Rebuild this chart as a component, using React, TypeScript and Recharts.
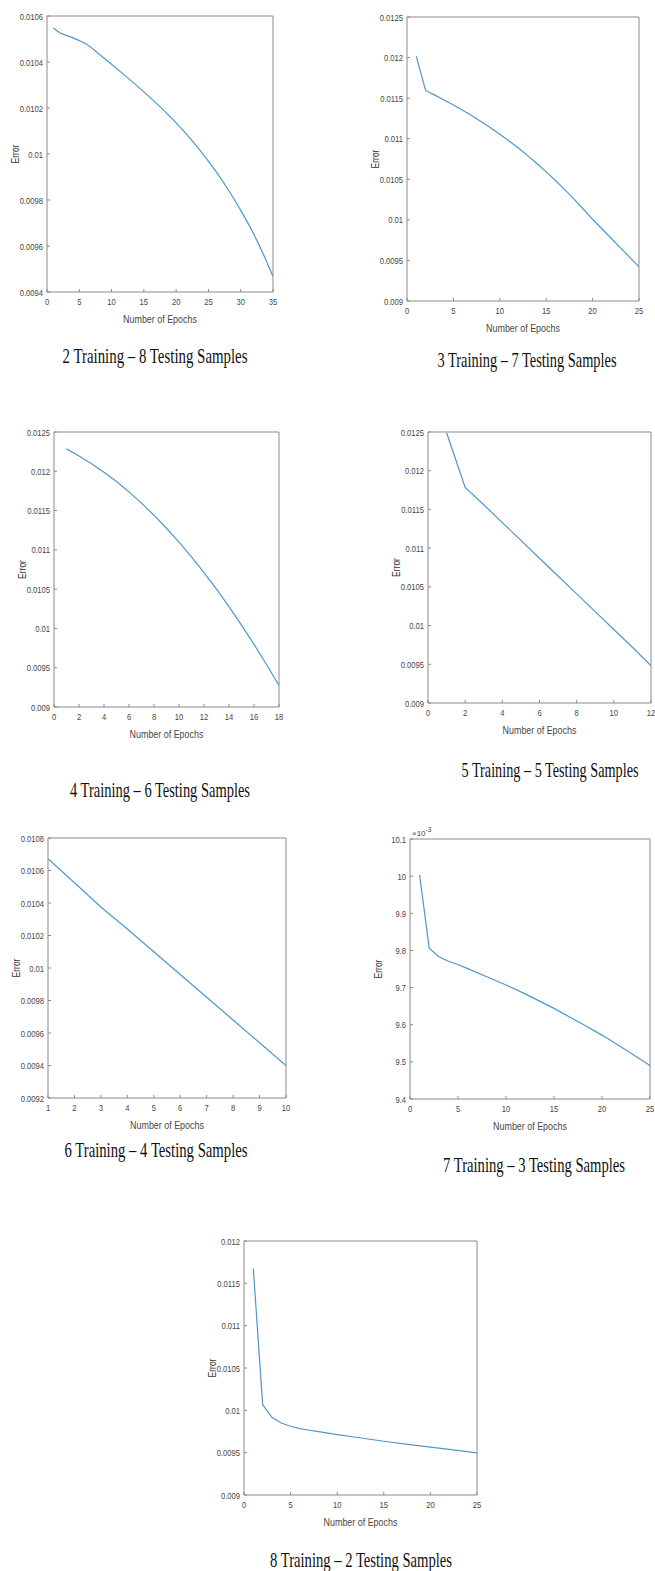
import React from 'react';
import { LineChart, Line, XAxis, YAxis } from 'recharts';

// ---- data ----
const epochs2_8 = [1, 2, 3, 4, 5, 6, 8, 10, 12, 15, 18, 20, 22, 24, 26, 28, 30, 32, 34, 35];
const error2_8 = [
  0.010548, 0.010527, 0.010516, 0.010505, 0.010493, 0.010479, 0.010436, 0.01039, 0.010343, 0.01027,
  0.010192, 0.010135, 0.010073, 0.010005, 0.009931, 0.009848, 0.009755, 0.009653, 0.009533, 0.009467,
];

const epochs3_7 = [1, 2, 3, 4, 5, 6, 7, 8, 9, 10, 11, 12, 13, 14, 15, 16, 17, 18, 19, 20, 21, 22, 23, 24, 25];
const error3_7 = [
  0.012015, 0.011595, 0.011537, 0.011477, 0.011415, 0.01135, 0.011282, 0.01121, 0.011135, 0.011055,
  0.010972, 0.010885, 0.010792, 0.010695, 0.010592, 0.010485, 0.010373, 0.010256, 0.010134, 0.010007,
  0.00989, 0.009773, 0.009655, 0.009538, 0.00942,
];

const epochs4_6 = [1, 2, 3, 4, 5, 6, 7, 8, 9, 10, 11, 12, 13, 14, 15, 16, 17, 18];
const error4_6 = [
  0.012285, 0.012194, 0.012097, 0.011989, 0.011869, 0.011738, 0.011595, 0.011441, 0.011275, 0.011098,
  0.01091, 0.01071, 0.010499, 0.010277, 0.010043, 0.009798, 0.009541, 0.009273,
];

const epochs5_5 = [1, 2, 3, 4, 5, 6, 7, 8, 9, 10, 11, 12];
const error5_5 = [
  0.01249, 0.011783, 0.01156, 0.01133, 0.0111, 0.01087, 0.01064, 0.01041, 0.01018, 0.00995, 0.00972, 0.00948,
];

const epochs6_4 = [1, 2, 3, 4, 5, 6, 7, 8, 9, 10];
const error6_4 = [0.010672, 0.010525, 0.010375, 0.01024, 0.0101, 0.00996, 0.00982, 0.00968, 0.00954, 0.0094];

// plotted in units of 1e-3
const epochs7_3 = [1, 2, 3, 4, 5, 6, 8, 10, 12, 15, 18, 20, 22, 25];
const error7_3 = [10.003, 9.806, 9.783, 9.771, 9.762, 9.751, 9.729, 9.707, 9.683, 9.644, 9.601, 9.572, 9.54, 9.49];

const epochs8_2 = [1, 2, 3, 4, 5, 6, 7, 8, 10, 12, 15, 18, 20, 22, 25];
const error8_2 = [
  0.011675, 0.010067, 0.009918, 0.009851, 0.009812, 0.009784, 0.009765, 0.009748, 0.009714, 0.009682,
  0.009635, 0.009592, 0.009565, 0.009538, 0.009498,
];

const xTicks35 = [0, 5, 10, 15, 20, 25, 30, 35];
const xTicks25 = [0, 5, 10, 15, 20, 25];
const xTicks18 = [0, 2, 4, 6, 8, 10, 12, 14, 16, 18];
const xTicks12 = [0, 2, 4, 6, 8, 10, 12];
const xTicks10 = [1, 2, 3, 4, 5, 6, 7, 8, 9, 10];

const yTicks94 = [0.0094, 0.0096, 0.0098, 0.01, 0.0102, 0.0104, 0.0106];
const yTicks90 = [0.009, 0.0095, 0.01, 0.0105, 0.011, 0.0115, 0.012, 0.0125];
const yTicks92 = [0.0092, 0.0094, 0.0096, 0.0098, 0.01, 0.0102, 0.0104, 0.0106, 0.0108];
const yTicksE3 = [9.4, 9.5, 9.6, 9.7, 9.8, 9.9, 10, 10.1];
const yTicks90b = [0.009, 0.0095, 0.01, 0.0105, 0.011, 0.0115, 0.012];

const captions = [
  '2 Training – 8 Testing Samples',
  '3 Training – 7 Testing Samples',
  '4 Training – 6 Testing Samples',
  '5 Training – 5 Testing Samples',
  '6 Training – 4 Testing Samples',
  '7 Training – 3 Testing Samples',
  '8 Training – 2 Testing Samples',
];

const FONT = "'Liberation Sans', Arial, sans-serif";
const SERIF = "'Liberation Serif', 'Times New Roman', serif";
const AXIS = '#8a8a8a';
const TEXT = '#474747';
const LINE = '#4f97c9';
const SX = 0.78; // the figure's sans text is horizontally squeezed

const Y_W = 44;
const TOP = 12;
const RIGHT = 9;
const BOTTOM = 36;

const fmt = (v: number) => String(Number(v.toFixed(5)));

type Box = { l: number; t: number; r: number; b: number };

const AxisTick = (props: any) => {
  const { x, y, payload, textAnchor, side } = props;
  return (
    <text
      transform={`translate(${x} ${y}) scale(${SX} 1)`}
      textAnchor={textAnchor}
      dy={side === 'bottom' ? '0.72em' : '0.36em'}
      fontSize={9.8}
      fontFamily={FONT}
      fill={TEXT}
    >
      {fmt(payload.value)}
    </text>
  );
};

const ErrorLabel = (props: any) => {
  const { x, y, height } = props.viewBox;
  const cx = x + 12;
  const cy = y + height / 2;
  return (
    <text
      transform={`translate(${cx} ${cy}) rotate(-90) scale(0.85 1)`}
      textAnchor="middle"
      dy="0.36em"
      fontSize={10}
      fontFamily={FONT}
      fill="#333"
    >
      Error
    </text>
  );
};

const EpochLabel = (props: any) => {
  const { x, y, width, height } = props.viewBox;
  return (
    <text
      transform={`translate(${x + width / 2} ${y + height - 5}) scale(0.85 1)`}
      textAnchor="middle"
      fontSize={10.5}
      fontFamily={FONT}
      fill={TEXT}
    >
      Number of Epochs
    </text>
  );
};

const ExpLabel = (props: any) => {
  const { x, y } = props.viewBox;
  return (
    <text x={x + 2} y={y - 2} fontSize={8} fontFamily={FONT} fill={TEXT}>
      ×10
      <tspan dy={-4} fontSize={6.5}>-3</tspan>
    </text>
  );
};

interface PanelProps {
  box: Box;
  epochs: number[];
  errors: number[];
  xDomain: [number, number];
  xTicks: number[];
  yDomain: [number, number];
  yTicks: number[];
  curve?: 'linear' | 'monotone';
  exponent?: boolean;
}

const Panel = ({ box, epochs, errors, xDomain, xTicks, yDomain, yTicks, curve = 'linear', exponent }: PanelProps) => {
  const data = epochs.map((e, i) => ({ epoch: e, error: errors[i] }));
  const width = box.r - box.l + Y_W + RIGHT;
  const height = box.b - box.t + TOP + BOTTOM;

  return (
    <div style={{ position: 'absolute', left: box.l - Y_W, top: box.t - TOP }}>
      <LineChart
        width={width}
        height={height}
        data={data}
        margin={{ top: TOP - 1, right: RIGHT - 1, bottom: 0, left: 0 }}
      >
        <XAxis
          xAxisId="b"
          type="number"
          dataKey="epoch"
          domain={xDomain}
          ticks={xTicks}
          interval={0}
          allowDataOverflow
          height={BOTTOM}
          tickSize={-3}
          tickMargin={9}
          stroke={AXIS}
          tick={(p: any) => <AxisTick {...p} side="bottom" />}
          label={<EpochLabel />}
        />
        <XAxis
          xAxisId="t"
          orientation="top"
          type="number"
          dataKey="epoch"
          domain={xDomain}
          ticks={xTicks}
          interval={0}
          allowDataOverflow
          height={1}
          tickSize={-3}
          tick={false}
          stroke={AXIS}
          label={exponent ? <ExpLabel /> : undefined}
        />
        <YAxis
          yAxisId="l"
          type="number"
          domain={yDomain}
          ticks={yTicks}
          interval={0}
          allowDataOverflow
          width={Y_W}
          tickSize={-3}
          tickMargin={7}
          stroke={AXIS}
          tick={(p: any) => <AxisTick {...p} side="left" />}
          label={<ErrorLabel />}
        />
        <YAxis
          yAxisId="r"
          orientation="right"
          type="number"
          domain={yDomain}
          ticks={yTicks}
          interval={0}
          allowDataOverflow
          width={1}
          tickSize={-3}
          tick={false}
          stroke={AXIS}
        />
        <Line
          xAxisId="b"
          yAxisId="l"
          type={curve}
          dataKey="error"
          stroke={LINE}
          strokeWidth={1.2}
          dot={false}
          isAnimationActive={false}
        />
      </LineChart>
    </div>
  );
};

// caption placement: centre x, baseline y, text width
const captionPos = [
  { x: 155, y: 363, w: 185 },
  { x: 527, y: 367, w: 179 },
  { x: 160, y: 797, w: 180 },
  { x: 550, y: 777, w: 177 },
  { x: 156, y: 1157, w: 183 },
  { x: 534, y: 1172, w: 182 },
  { x: 361, y: 1567, w: 182 },
];

export default function App() {
  return (
    <div style={{ position: 'absolute', left: 0, top: 0, width: 655, height: 1571, background: '#fff', overflow: 'hidden' }}>
      <Panel box={{ l: 47, t: 16, r: 273, b: 292 }} epochs={epochs2_8} errors={error2_8} xDomain={[0, 35]} xTicks={xTicks35} yDomain={[0.0094, 0.0106]} yTicks={yTicks94} curve="monotone" />
      <Panel box={{ l: 407, t: 17, r: 639, b: 301 }} epochs={epochs3_7} errors={error3_7} xDomain={[0, 25]} xTicks={xTicks25} yDomain={[0.009, 0.0125]} yTicks={yTicks90} />
      <Panel box={{ l: 54, t: 432, r: 279, b: 707 }} epochs={epochs4_6} errors={error4_6} xDomain={[0, 18]} xTicks={xTicks18} yDomain={[0.009, 0.0125]} yTicks={yTicks90} />
      <Panel box={{ l: 428, t: 432, r: 651, b: 703 }} epochs={epochs5_5} errors={error5_5} xDomain={[0, 12]} xTicks={xTicks12} yDomain={[0.009, 0.0125]} yTicks={yTicks90} />
      <Panel box={{ l: 48, t: 838, r: 286, b: 1098 }} epochs={epochs6_4} errors={error6_4} xDomain={[1, 10]} xTicks={xTicks10} yDomain={[0.0092, 0.0108]} yTicks={yTicks92} />
      <Panel box={{ l: 410, t: 839, r: 650, b: 1099 }} epochs={epochs7_3} errors={error7_3} xDomain={[0, 25]} xTicks={xTicks25} yDomain={[9.4, 10.1]} yTicks={yTicksE3} exponent />
      <Panel box={{ l: 244, t: 1241, r: 477, b: 1495 }} epochs={epochs8_2} errors={error8_2} xDomain={[0, 25]} xTicks={xTicks25} yDomain={[0.009, 0.012]} yTicks={yTicks90b} />
      <svg width={655} height={1571} style={{ position: 'absolute', left: 0, top: 0, pointerEvents: 'none' }}>
        {captions.map((c, i) => (
          <text
            key={c}
            transform={`translate(${captionPos[i].x} ${captionPos[i].y}) scale(1 1.33)`}
            textAnchor="middle"
            fontFamily={SERIF}
            fontSize={15}
            fill="#111"
            textLength={captionPos[i].w}
            lengthAdjust="spacingAndGlyphs"
          >
            {c}
          </text>
        ))}
      </svg>
    </div>
  );
}
